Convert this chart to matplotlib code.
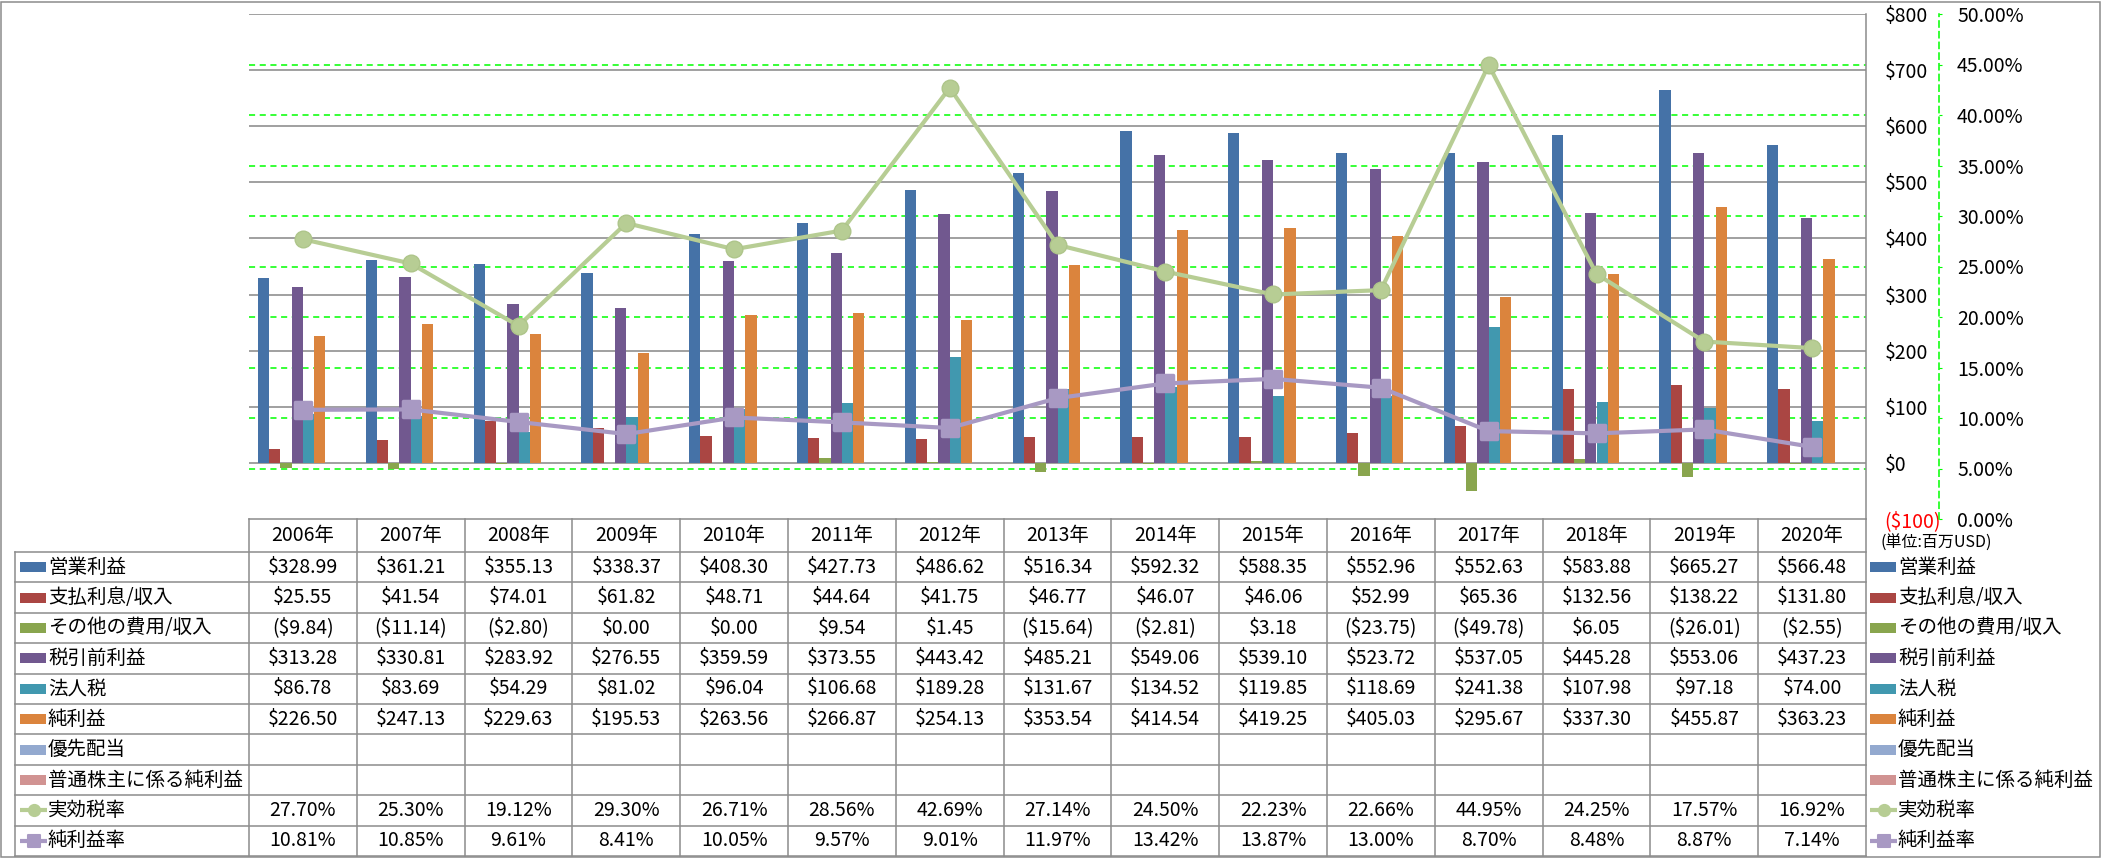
import numpy as np
import matplotlib
matplotlib.use('Agg')
import matplotlib.pyplot as plt
from matplotlib.patches import Rectangle
from matplotlib.markers import MarkerStyle

plt.rcParams['font.family'] = ['Noto Sans CJK JP', 'DejaVu Sans']

# %%
years = ['2006年', '2007年', '2008年', '2009年', '2010年', '2011年', '2012年', '2013年',
         '2014年', '2015年', '2016年', '2017年', '2018年', '2019年', '2020年']

op_income = [328.99, 361.21, 355.13, 338.37, 408.30, 427.73, 486.62, 516.34,
             592.32, 588.35, 552.96, 552.63, 583.88, 665.27, 566.48]
interest = [25.55, 41.54, 74.01, 61.82, 48.71, 44.64, 41.75, 46.77,
            46.07, 46.06, 52.99, 65.36, 132.56, 138.22, 131.80]
other_exp = [-9.84, -11.14, -2.80, 0.00, 0.00, 9.54, 1.45, -15.64,
             -2.81, 3.18, -23.75, -49.78, 6.05, -26.01, -2.55]
pretax = [313.28, 330.81, 283.92, 276.55, 359.59, 373.55, 443.42, 485.21,
          549.06, 539.10, 523.72, 537.05, 445.28, 553.06, 437.23]
corp_tax = [86.78, 83.69, 54.29, 81.02, 96.04, 106.68, 189.28, 131.67,
            134.52, 119.85, 118.69, 241.38, 107.98, 97.18, 74.00]
net_income = [226.50, 247.13, 229.63, 195.53, 263.56, 266.87, 254.13, 353.54,
              414.54, 419.25, 405.03, 295.67, 337.30, 455.87, 363.23]
pref_div = None
common_net = None
eff_tax = [27.70, 25.30, 19.12, 29.30, 26.71, 28.56, 42.69, 27.14,
           24.50, 22.23, 22.66, 44.95, 24.25, 17.57, 16.92]
net_margin = [10.81, 10.85, 9.61, 8.41, 10.05, 9.57, 9.01, 11.97,
              13.42, 13.87, 13.00, 8.70, 8.48, 8.87, 7.14]

bar_names = ['営業利益', '支払利息/収入', 'その他の費用/収入', '税引前利益', '法人税', '純利益',
             '優先配当', '普通株主に係る純利益']
bar_colors = ['#4572A7', '#AA4643', '#89A54E', '#71588F', '#4198AF', '#DB843D',
              '#93A9CF', '#D19392']
bar_data = [op_income, interest, other_exp, pretax, corp_tax, net_income, pref_div, common_net]

line_names = ['実効税率', '純利益率']
line_colors = ['#B7CD94', '#A899C3']
line_data = [eff_tax, net_margin]

usd_ticks = [-100, 0, 100, 200, 300, 400, 500, 600, 700, 800]
pct_ticks = [0, 5, 10, 15, 20, 25, 30, 35, 40, 45, 50]

# %%
W, H = 2101, 858
fig = plt.figure(figsize=(W / 100, H / 100), dpi=100)

L, R, T, B = 249, 1866, 14, 519
ax = fig.add_axes([L / W, 1 - B / H, (R - L) / W, (B - T) / H])
ax2 = ax.twinx()

n = len(years)
x = np.arange(n)
w = 1 / 9.6
for k, (vals, c) in enumerate(zip(bar_data, bar_colors)):
    if vals is None:
        continue
    ax.bar(x + (k - 3.5) * w, vals, w, color=c, zorder=3)

ax.set_xlim(-0.5, n - 0.5)
ax.set_ylim(-100, 800)
ax.set_xticks([])
for v in usd_ticks[1:]:
    ax.axhline(v, color='#868686', lw=1.1, zorder=1)

ax2.set_ylim(0, 50)
for p in pct_ticks[1:-1]:
    ax.plot([0, 1], [p, p], transform=ax2.get_yaxis_transform(),
            color='#00FF00', lw=1.1, ls=(0, (4, 3)), zorder=1.5)

ax2.plot(x, eff_tax, color=line_colors[0], lw=3, marker='o', ms=12,
         mfc=line_colors[0], mec='#AEC58A', mew=1, zorder=5)
ax2.plot(x, net_margin, color=line_colors[1], lw=3, marker=MarkerStyle('s', joinstyle='round'),
         ms=11, mfc=line_colors[1], mec=line_colors[1], mew=2.5, zorder=5)

# primary axis on the right
ax.yaxis.tick_right()
ax.set_yticks(usd_ticks)
ax.set_yticklabels([f'${v}' if v >= 0 else f'(${-v})' for v in usd_ticks])
ax.tick_params(axis='y', length=0, pad=13.5, labelsize=14)
ax.get_yticklabels()[0].set_color('red')
for s in ['top', 'left', 'bottom']:
    ax.spines[s].set_visible(False)
ax.spines['right'].set_color('#8C8C8C')
ax.spines['right'].set_linewidth(1.1)

# secondary axis
ax2.set_yticks(pct_ticks)
ax2.set_yticklabels([f'{p:.2f}%' for p in pct_ticks])
ax2.tick_params(axis='y', length=2.5, width=0.8, color='#00FF00', direction='out',
                pad=10.5, labelsize=14)
for s in ['top', 'left', 'bottom']:
    ax2.spines[s].set_visible(False)
ax2.spines['right'].set_position(('outward', 73 * 0.72))
ax2.spines['right'].set_color('#00FF00')
ax2.spines['right'].set_linestyle((0, (4, 3)))
ax2.spines['right'].set_linewidth(1.1)

# %%
# data table below the plot, drawn in pixel coordinates
ov = fig.add_axes([0, 0, 1, 1])
ov.set_xlim(0, W)
ov.set_ylim(H, 0)
ov.axis('off')

gcol = '#8C8C8C'
col_w = (R - L) / n
hdr_top, hdr_bot, tbl_bot = B, 552, 856
row_h = (tbl_bot - hdr_bot) / 10
tbl_left = 15

ov.plot([L, R], [hdr_top, hdr_top], color=gcol, lw=1.1)
for j in range(11):
    yy = hdr_bot + j * row_h
    ov.plot([tbl_left, R], [yy, yy], color=gcol, lw=1.1)
for k in range(n + 1):
    xx = L + k * col_w
    ov.plot([xx, xx], [hdr_top, tbl_bot], color=gcol, lw=1.1)
ov.plot([tbl_left, tbl_left], [hdr_bot, tbl_bot], color=gcol, lw=1.1)

for k, yr in enumerate(years):
    ov.text(L + (k + 0.5) * col_w, (hdr_top + hdr_bot) / 2, yr, ha='center', va='center', fontsize=14)


def money(v):
    return f'${v:,.2f}' if v >= 0 else f'(${-v:,.2f})'


rows = []
for name, vals, c in zip(bar_names, bar_data, bar_colors):
    rows.append((name, None if vals is None else [money(v) for v in vals], c, None))
for name, vals, c, m in zip(line_names, line_data, line_colors, ['o', 's']):
    rows.append((name, [f'{v:.2f}%' for v in vals], c, m))


def key(x0, yc, c, m):
    if m is None:
        ov.add_patch(Rectangle((x0, yc - 5), 26, 10, color=c, lw=0))
    else:
        ov.plot([x0, x0 + 27], [yc, yc], color=c, lw=3, solid_capstyle='butt')
        ov.plot([x0 + 13.5], [yc], marker=MarkerStyle(m, joinstyle='round'), ms=8,
                color=c, mec=c, mew=1.5)


for j, (name, vals, c, m) in enumerate(rows):
    yc = hdr_bot + (j + 0.5) * row_h
    key(20, yc, c, m)
    ov.text(48, yc, name, ha='left', va='center', fontsize=14)
    key(1870, yc, c, m)
    ov.text(1898, yc, name, ha='left', va='center', fontsize=14)
    if vals is not None:
        for k, s in enumerate(vals):
            ov.text(L + (k + 0.5) * col_w, yc, s, ha='center', va='center', fontsize=14)

ov.text(1881, 543, '(単位:百万USD)', ha='left', va='center', fontsize=11.5)

ov.add_patch(Rectangle((0.5, 1.5), W - 1.5, H - 2.5, fill=False, ec=gcol, lw=1.1))

fig.savefig('out.png', dpi=100)
